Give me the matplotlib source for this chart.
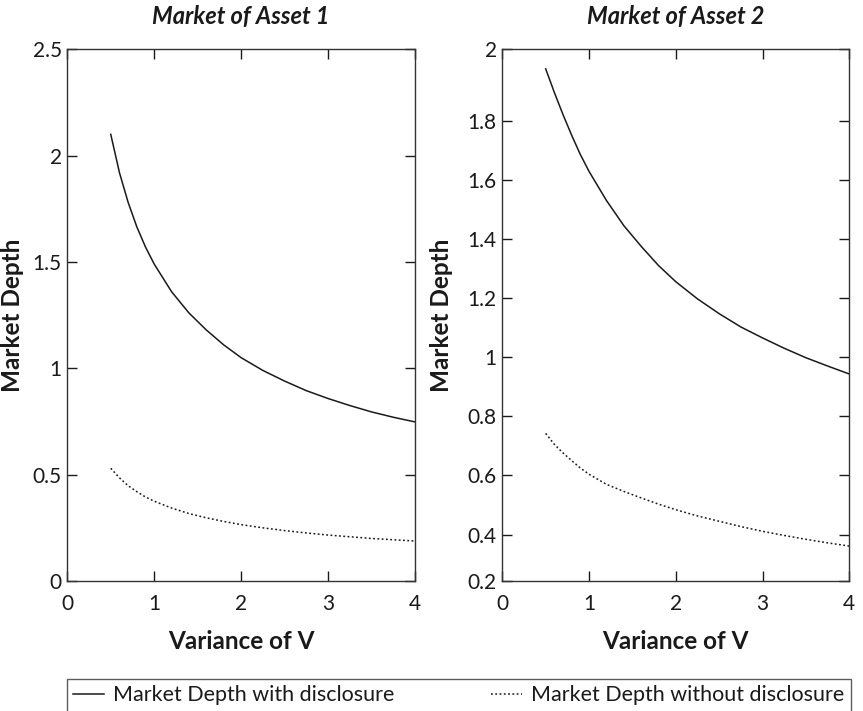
import matplotlib
matplotlib.use("Agg")
import matplotlib.pyplot as plt

plt.rcParams['font.family'] = ['Lato', 'DejaVu Sans']

# Data
variance = [0.5, 0.6, 0.7, 0.8, 0.9, 1.0, 1.2, 1.4, 1.6, 1.8, 2.0,
            2.25, 2.5, 2.75, 3.0, 3.25, 3.5, 3.75, 4.0]

a1_with = [2.10, 1.92, 1.78, 1.665, 1.57, 1.49, 1.36, 1.26, 1.18, 1.11, 1.05,
           0.99, 0.94, 0.895, 0.858, 0.825, 0.795, 0.77, 0.748]
a1_without = [0.53, 0.485, 0.448, 0.42, 0.395, 0.375, 0.343, 0.317, 0.297, 0.28, 0.265,
              0.25, 0.237, 0.226, 0.216, 0.208, 0.20, 0.194, 0.188]

a2_with = [1.975, 1.895, 1.82, 1.75, 1.685, 1.628, 1.53, 1.445, 1.375, 1.31, 1.255,
           1.197, 1.147, 1.102, 1.065, 1.03, 0.998, 0.97, 0.943]
a2_without = [0.742, 0.705, 0.676, 0.65, 0.625, 0.604, 0.57, 0.546, 0.524, 0.503, 0.484,
              0.463, 0.445, 0.427, 0.411, 0.397, 0.384, 0.372, 0.361]

titles = ["Market of Asset 1", "Market of Asset 2"]
legend_labels = ["Market Depth with disclosure", "Market Depth without disclosure"]

x_ticks = [0, 1, 2, 3, 4]
y1_ticks = [0, 0.5, 1, 1.5, 2, 2.5]
y1_labels = ["0", "0.5", "1", "1.5", "2", "2.5"]
y2_lim = (0.243, 2.041)
y2_ticks = [0.243, 0.4, 0.6, 0.8, 1.0, 1.2, 1.4, 1.6, 1.8, 2.041]
y2_labels = ["0.2", "0.4", "0.6", "0.8", "1", "1.2", "1.4", "1.6", "1.8", "2"]

ink = "#1a1a1a"

fig = plt.figure(figsize=(8.63, 7.11), dpi=100)
ax1 = fig.add_axes([67.3 / 863, 1 - 581 / 711, 347.7 / 863, 531.7 / 711])
ax2 = fig.add_axes([502.3 / 863, 1 - 581 / 711, 347.0 / 863, 531.7 / 711])

panels = [
    (ax1, a1_with, a1_without, titles[0], (0, 2.5), y1_ticks, y1_labels, -0.125),
    (ax2, a2_with, a2_without, titles[1], y2_lim, y2_ticks, y2_labels, -0.142),
]

handles = None
for ax, w, wo, title, ylim, yt, ylab, lx in panels:
    l1, = ax.plot(variance, w, color=ink, lw=1.1, linestyle='-')
    l2, = ax.plot(variance, wo, color=ink, lw=1.1, linestyle=(0, (1.2, 1.6)))
    handles = [l1, l2]
    ax.set_xlim(0, 4)
    ax.set_ylim(*ylim)
    ax.set_xticks(x_ticks)
    ax.set_xticklabels([str(t) for t in x_ticks])
    ax.set_yticks(yt)
    ax.set_yticklabels(ylab)
    ax.tick_params(direction='in', length=7, width=1.0, color=ink,
                   top=True, right=True, labelsize=15, labelcolor=ink)
    ax.tick_params(axis='x', pad=9)
    ax.tick_params(axis='y', pad=4)
    for s in ax.spines.values():
        s.set_linewidth(1.0)
        s.set_color("#333333")
    ax.set_title(title, fontsize=17, fontweight='bold', fontstyle='italic',
                 pad=18, color=ink)
    ax.set_xlabel("Variance of V", fontsize=17.5, fontweight='bold', color=ink,
                  labelpad=12)
    ax.set_ylabel("Market Depth", fontsize=17.5, fontweight='bold', color=ink)
    ax.yaxis.set_label_coords(lx, 0.5)

leg = fig.legend(handles, legend_labels, loc='upper left',
                 bbox_to_anchor=(67 / 863, -0.05, 784 / 863, 1 - 679 / 711 + 0.05),
                 mode='expand', ncol=2, fontsize=15.5, frameon=True,
                 fancybox=False, handlelength=1.4, handletextpad=0.45,
                 borderaxespad=0.0, borderpad=0.3)
leg.get_frame().set_edgecolor("#333333")
leg.get_frame().set_linewidth(1.0)
for t in leg.get_texts():
    t.set_color(ink)

fig.savefig("out.png", dpi=100)
